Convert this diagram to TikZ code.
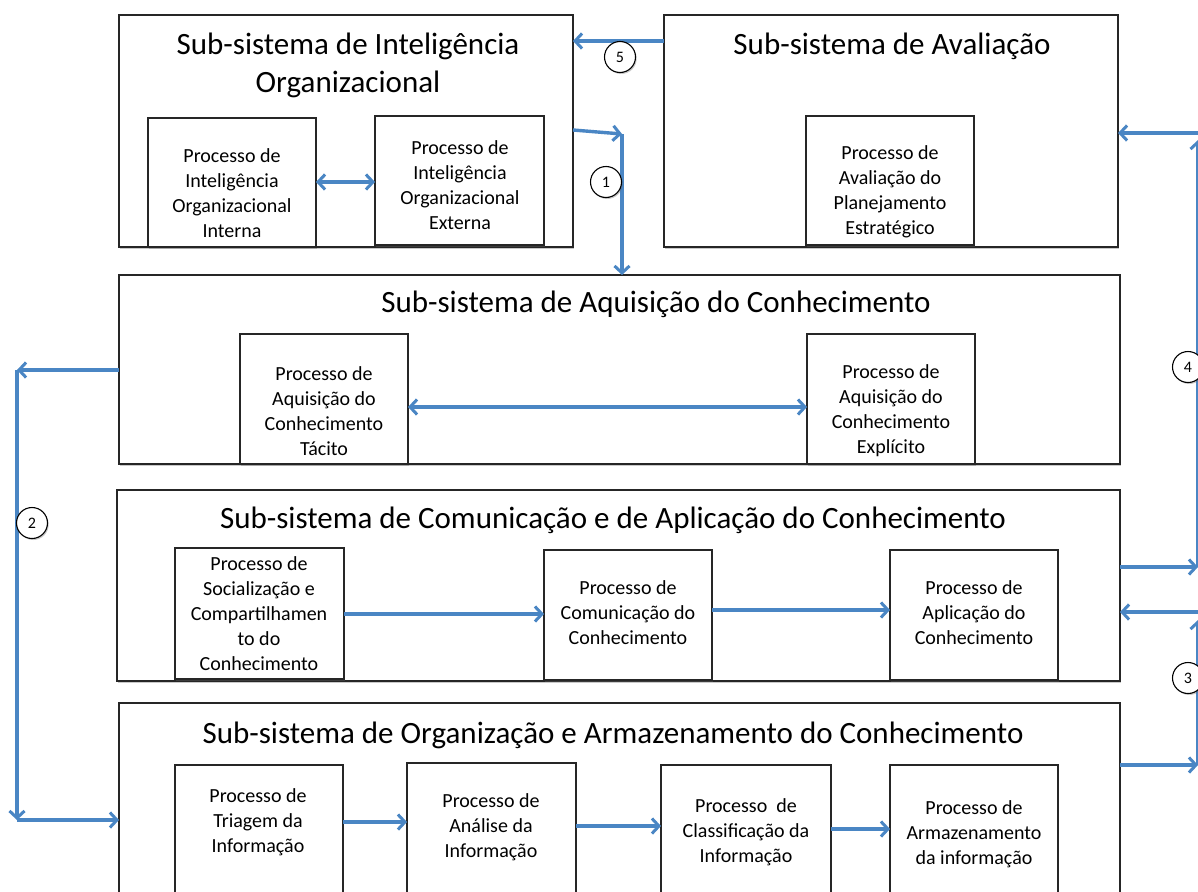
\documentclass[tikz,border=0pt]{standalone}
\usepackage{fontspec}
\setmainfont{Carlito}
\usetikzlibrary{arrows.meta,shadows}
\definecolor{arr}{RGB}{74,134,196}
\begin{document}
\begin{tikzpicture}[x=1pt,y=-1pt,
  shd/.style={drop shadow={opacity=0.35,shadow xshift=1.2pt,shadow yshift=-1.5pt,fill=black!60}},
  box/.style={draw=black!85,line width=1.4pt,fill=white,shd,rectangle,anchor=north west,inner sep=0pt,outer sep=0pt},
  ttl/.style={font=\fontsize{31}{38}\selectfont,align=center,inner sep=0pt},
  ptx/.style={font=\fontsize{20}{25}\selectfont,align=center,inner sep=0pt},
  num/.style={circle,draw=black,line width=1.1pt,fill=white,shd,minimum size=31pt,inner sep=0pt,font=\fontsize{16}{16}\selectfont},
  tip/.tip={Straight Barb[length=7pt,width=15pt,line width=3pt]},
  arrow/.style={draw=arr,line width=3.4pt,-tip},
  darrow/.style={draw=arr,line width=3.4pt,tip-tip}
]
\useasboundingbox (0,0) rectangle (1198,891);
\clip (0,0) rectangle (1198,891);
\fill[white] (0,0) rectangle (1198,891);

% outer subsystem boxes
\node[box,minimum width=454pt,minimum height=232pt] (intel) at (119,15) {};
\node[box,minimum width=454pt,minimum height=232pt] (aval) at (664,15) {};
\node[box,minimum width=1001pt,minimum height=189pt] (aquis) at (119,275) {};
\node[box,minimum width=1003pt,minimum height=191pt] (comun) at (117,490) {};
\node[box,minimum width=1001pt,minimum height=210pt] (org) at (119,703) {};

% titles
\node[ttl] (tIntel) at (348,65) {Sub-sistema de Inteligência\\Organizacional};
\node[ttl] (tAval) at (892,46) {Sub-sistema de Avaliação};
\node[ttl] (tAquis) at (656,304) {Sub-sistema de Aquisição do Conhecimento};
\node[ttl] (tComun) at (613,520) {Sub-sistema de Comunicação e de Aplicação do Conhecimento};
\node[ttl] (tOrg) at (613,735) {Sub-sistema de Organização e Armazenamento do Conhecimento};

% inner process boxes
\node[box,minimum width=168pt,minimum height=129pt] (pInt) at (148,118) {};
\node[box,minimum width=169pt,minimum height=129pt] (pExt) at (375,116) {};
\node[box,minimum width=168pt,minimum height=129pt] (pAval) at (806,116) {};
\node[box,minimum width=168pt,minimum height=130pt] (pTac) at (240,334) {};
\node[box,minimum width=168pt,minimum height=130pt] (pExp) at (807,334) {};
\node[box,minimum width=169pt,minimum height=131pt] (pSoc) at (175,548) {};
\node[box,minimum width=168pt,minimum height=130pt] (pCom) at (544,550) {};
\node[box,minimum width=168pt,minimum height=130pt] (pApl) at (890,550) {};
\node[box,minimum width=168pt,minimum height=150pt] (pTri) at (175,765) {};
\node[box,minimum width=169pt,minimum height=150pt] (pAna) at (407,763) {};
\node[box,minimum width=170pt,minimum height=150pt] (pCla) at (661,765) {};
\node[box,minimum width=168pt,minimum height=150pt] (pArm) at (890,765) {};

% process texts
\node[ptx] (xInt) at (232,193) {Processo de\\Inteligência\\Organizacional\\Interna};
\node[ptx] (xExt) at (460,185.5) {Processo de\\Inteligência\\Organizacional\\Externa};
\node[ptx] (xAval) at (890,192) {Processo de\\Avaliação do\\Planejamento\\Estratégico};
\node[ptx] (xTac) at (324,411) {Processo de\\Aquisição do\\Conhecimento\\Tácito};
\node[ptx] (xExp) at (891,411) {Processo de\\Aquisição do\\Conhecimento\\Explícito};
\node[ptx] (xSoc) at (259,614) {Processo de\\Socialização e\\Compartilhamen\\to do\\Conhecimento};
\node[ptx] (xCom) at (628,613) {Processo de\\Comunicação do\\Conhecimento};
\node[ptx] (xApl) at (974,613) {Processo de\\Aplicação do\\Conhecimento};
\node[ptx] (xTri) at (258,822) {Processo de\\Triagem da\\Informação};
\node[ptx] (xAna) at (491,827) {Processo de\\Análise da\\Informação};
\node[ptx] (xCla) at (746,832) {Processo~ de\\Classificação da\\Informação};
\node[ptx] (xArm) at (974,834) {Processo de\\Armazenamento\\da informação};

% internal arrows
\draw[darrow] (pInt.east |- 0,182) -- (pExt.west |- 0,182);
\draw[darrow] (pTac.east |- 0,407) -- (pExp.west |- 0,407);
\draw[arrow] (pSoc.east |- 0,614) -- (pCom.west |- 0,614);
\draw[arrow] (pCom.east |- 0,610) -- (pApl.west |- 0,610);
\draw[arrow] (pTri.east |- 0,822) -- (pAna.west |- 0,822);
\draw[arrow] (pAna.east |- 0,826) -- (pCla.west |- 0,826);
\draw[arrow] (pCla.east |- 0,829) -- (pArm.west |- 0,829);

% 5
\draw[arrow] (aval.west |- 0,41) -- (intel.east |- 0,41);
% 1
\coordinate (k1) at (622,134);
\draw[arrow] (intel.east |- 0,130) -- (k1);
\draw[arrow] (k1) -- (aquis.north -| k1);
% 2
\coordinate (k2a) at (17,370);
\coordinate (k2b) at (17,820);
\draw[arrow] (aquis.west |- k2a) -- (k2a);
\draw[arrow] (k2a) -- (k2b);
\draw[arrow] (k2b) -- (org.west |- k2b);
% right side (4 and 3)
\coordinate (r4a) at (1198,567);
\coordinate (r4b) at (1198,140);
\coordinate (r4c) at (1198,133);
\coordinate (r3a) at (1198,765);
\coordinate (r3b) at (1198,620);
\coordinate (r3c) at (1198,612);
\draw[arrow] (comun.east |- r4a) -- (r4a);
\draw[arrow] (r4a) -- (r4b);
\draw[arrow] (r4c) -- (aval.east |- r4c);
\draw[arrow] (org.east |- r3a) -- (r3a);
\draw[arrow] (r3a) -- (r3b);
\draw[arrow] (r3c) -- (comun.east |- r3c);

% numbered circles
\node[num] (n5) at (620,57) {5};
\node[num] (n1) at (606,182) {1};
\node[num] (n2) at (32,523) {2};
\node[num] (n4) at (1188,367) {4};
\node[num] (n3) at (1188,678) {3};
\end{tikzpicture}
\end{document}
